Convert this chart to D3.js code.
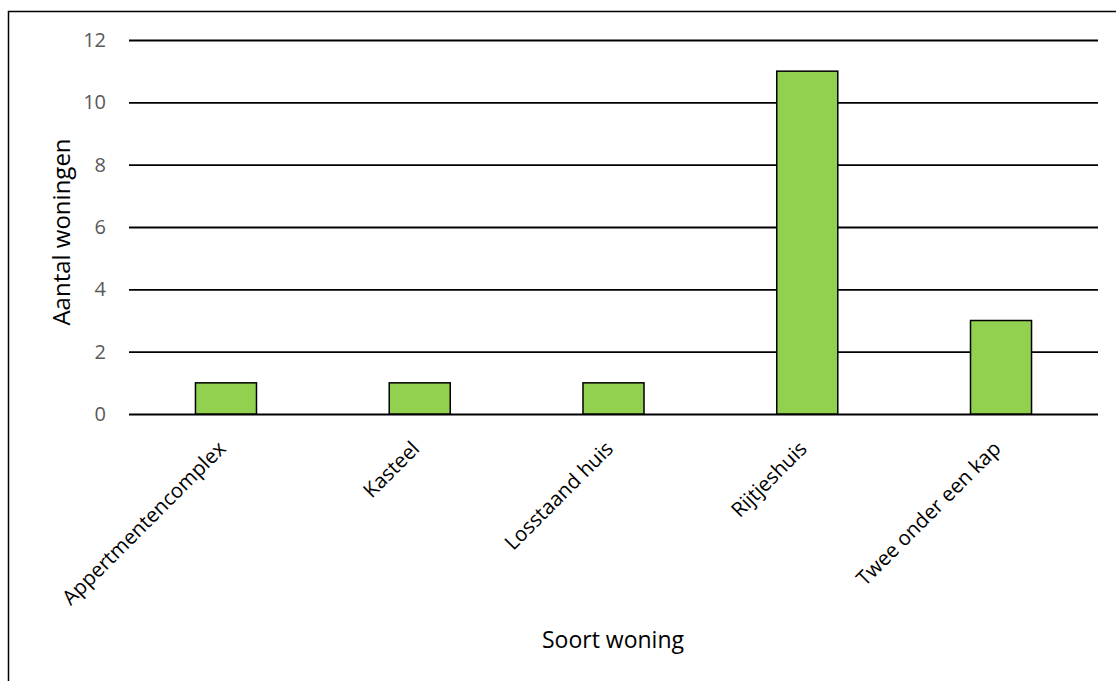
<!DOCTYPE html>
<html>
<head>
<meta charset="utf-8">
<script src="https://cdn.jsdelivr.net/npm/d3@7"></script>
<style>
  body { margin: 0; background: #fff; }
  text { font-family: "Open Sans", Lato, sans-serif; }
</style>
</head>
<body>
<script>
// data
const categories = ["Appertmentencomplex", "Kasteel", "Losstaand huis", "Rijtjeshuis", "Twee onder een kap"];
const counts = [1, 1, 1, 11, 3];
const yTicks = [0, 2, 4, 6, 8, 10, 12];

const W = 1116, H = 681;
const margin = {top: 40, right: 18, bottom: 267, left: 129};
const width = W - margin.left - margin.right;
const height = H - margin.top - margin.bottom;

const svg = d3.select("body").append("svg")
  .attr("width", W)
  .attr("height", H);

// outer frame
svg.append("rect")
  .attr("x", 8.5).attr("y", 11.5)
  .attr("width", W + 20).attr("height", H + 20)
  .attr("fill", "none")
  .attr("stroke", "#000")
  .attr("stroke-width", 1.5);

const g = svg.append("g")
  .attr("transform", `translate(${margin.left},${margin.top})`);

const x = d3.scaleBand()
  .domain(categories)
  .range([0, width])
  .paddingInner(0.685)
  .paddingOuter(0.343);

const y = d3.scaleLinear()
  .domain([0, 12])
  .range([height, 0]);

// gridlines + y labels
const yAxis = d3.axisLeft(y)
  .tickValues(yTicks)
  .tickSize(-width)
  .tickPadding(23);

g.append("g")
  .attr("class", "y axis")
  .call(yAxis)
  .call(s => s.select(".domain").remove())
  .call(s => s.selectAll(".tick line").attr("stroke", "#000").attr("stroke-width", 1.8))
  .call(s => s.selectAll(".tick text")
    .attr("fill", "#595959")
    .style("font-size", "20px"));

// bars
g.append("g")
  .selectAll("rect")
  .data(counts)
  .enter().append("rect")
  .attr("x", (d, i) => x(categories[i]))
  .attr("y", d => y(d))
  .attr("width", x.bandwidth())
  .attr("height", d => height - y(d))
  .attr("fill", "#92D050")
  .attr("stroke", "#000")
  .attr("stroke-width", 1.5);

// x labels
const xAxis = d3.axisBottom(x).tickSize(0).tickPadding(0);
g.append("g")
  .attr("transform", `translate(0,${height})`)
  .call(xAxis)
  .call(s => s.select(".domain").remove())
  .call(s => s.selectAll(".tick text")
    .attr("fill", "#000")
    .style("font-size", "20.5px")
    .attr("text-anchor", "end")
    .attr("dy", null)
    .attr("transform", "translate(1,36) rotate(-45)"));

// axis titles
svg.append("text")
  .attr("transform", `translate(70,232) rotate(-90)`)
  .attr("text-anchor", "middle")
  .style("font-size", "24px")
  .attr("fill", "#000")
  .text("Aantal woningen");

svg.append("text")
  .attr("x", 613)
  .attr("y", 648)
  .attr("text-anchor", "middle")
  .style("font-size", "23px")
  .attr("fill", "#000")
  .text("Soort woning");
</script>
</body>
</html>
